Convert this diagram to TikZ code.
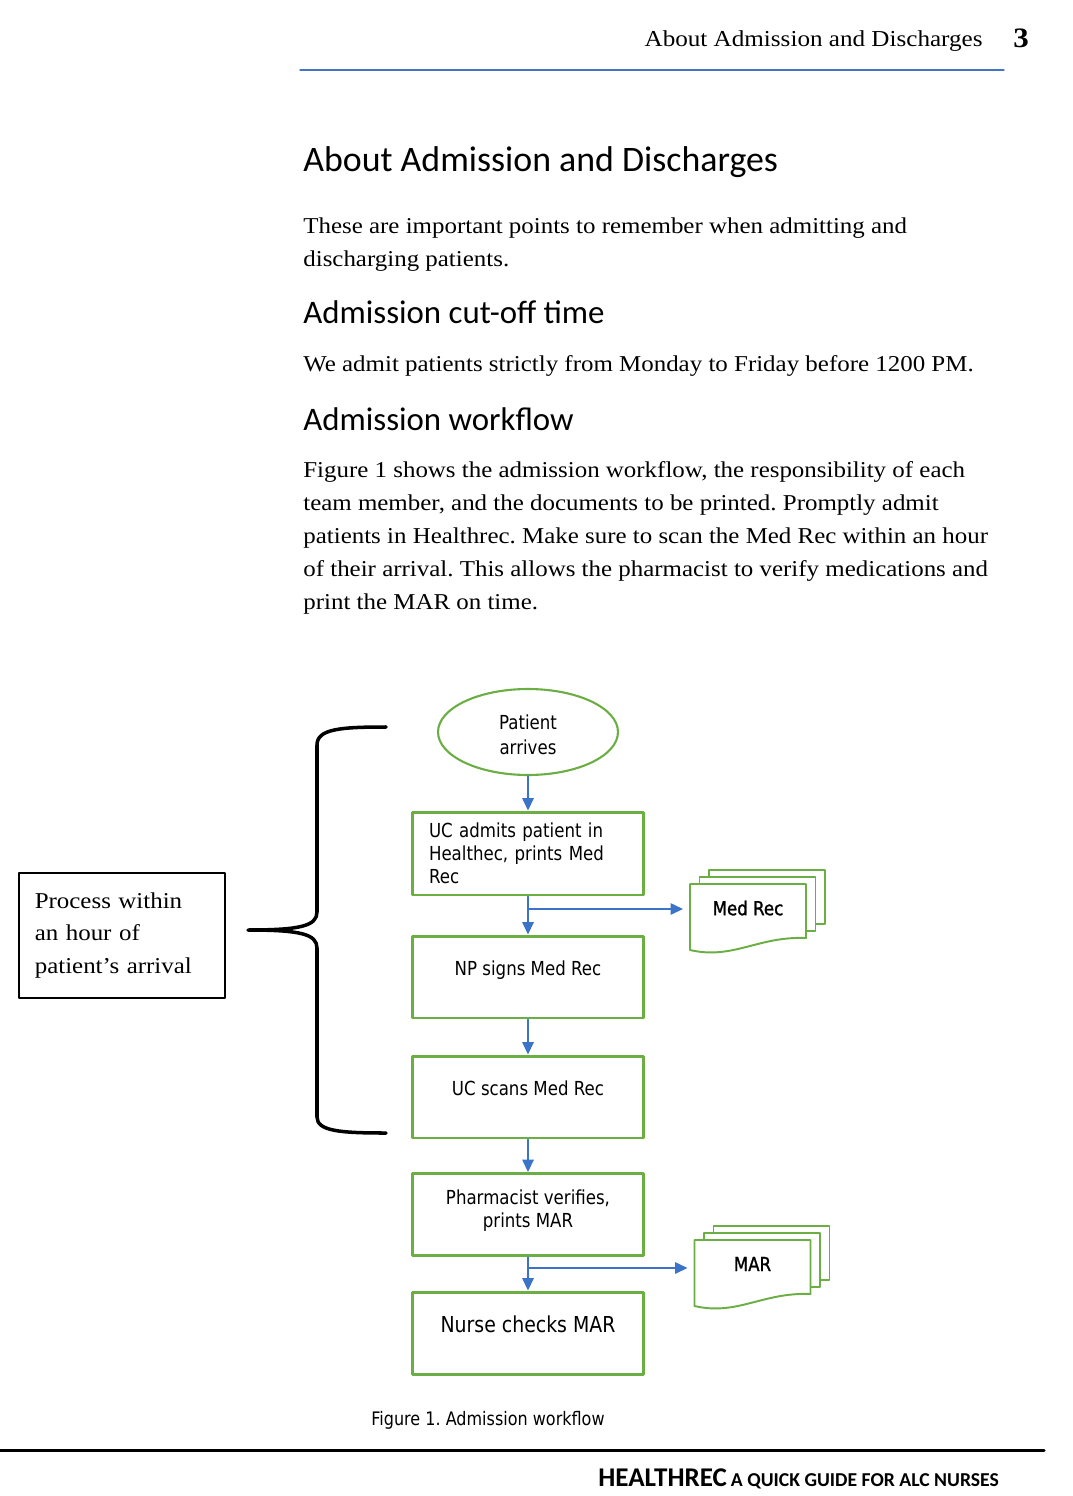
\documentclass[tikz,border=0pt]{standalone}
\usepackage{fontspec}
\setmainfont[FakeStretch=1.1]{Liberation Serif}
\newfontfamily\headfont{Carlito}
\newfontfamily\chartfont[FakeStretch=0.86]{DejaVu Sans}
\newfontfamily\docfont[FakeStretch=0.86, FakeBold=1.2]{DejaVu Sans}
\usetikzlibrary{arrows.meta}
\usetikzlibrary{positioning}
\usetikzlibrary{shapes.geometric}
\definecolor{flowgreen}{RGB}{107,174,67}
\definecolor{flowblue}{RGB}{59,115,200}
\definecolor{ruleblue}{RGB}{68,114,196}

\tikzset{
  bodyline/.style={anchor=base west, inner sep=0pt, font=\fontsize{12.9}{15}\selectfont},
  headline/.style={anchor=base west, inner sep=0pt, font=\headfont\fontsize{20.4}{24}\selectfont},
  subhead/.style={headline, font=\headfont\fontsize{18.7}{22}\selectfont},
  procbox/.style={draw=flowgreen, line width=1.7pt, minimum width=4.64cm, minimum height=1.64cm,
    inner sep=0pt, align=center, font=\chartfont\fontsize{11}{13.1}\selectfont},
  singlebox/.style={procbox, text depth=0.37cm},
  startoval/.style={ellipse, draw=flowgreen, line width=1.2pt, minimum width=3.6cm, minimum height=1.72cm,
    inner sep=0pt, align=center, text height=0.91cm, font=\chartfont\fontsize{11}{14.2}\selectfont},
  flowarrow/.style={draw=flowblue, line width=0.7pt, -{Triangle[length=7pt,width=6.5pt]}},
  docpage/.style={draw=flowgreen, line width=1.1pt, fill=white},
  doctext/.style={inner sep=0pt, minimum width=2.32cm, outer sep=4pt, font=\docfont\fontsize{11}{13}\selectfont}
}

% stack of three printed pages round a coordinate
\newcommand\docstack[1]{%
  \foreach \dx/\dy in {19/14,9.5/7}
    \draw[docpage] ([shift={(-58+\dx,-24-\dy)}]#1) rectangle ([shift={(58+\dx,30-\dy)}]#1);
  \draw[docpage] ([shift={(-58,-24)}]#1) -- ([shift={(58,-24)}]#1) -- ([shift={(58,30)}]#1)
    .. controls ([shift={(10,28)}]#1) and ([shift={(-15,52)}]#1) .. ([shift={(-58,42)}]#1) -- cycle;}

\begin{document}
\frenchspacing
\begin{tikzpicture}[line cap=round,line join=round,x=0.02cm,y=-0.02cm]
\useasboundingbox (0,0) rectangle (1072,1496);

% running head
\node[anchor=base east, inner sep=0pt, font=\fontsize{13}{15}\selectfont] (runhead) at (983,47) {About Admission and Discharges};
\node[anchor=base west, inner sep=0pt, font=\bfseries\fontsize{16}{18}\selectfont] (pagenum) at (1013,48) {3};
\draw[ruleblue, line width=0.6pt] (300,70) -- (1004,70);

% text of the page
\node[headline] (title) at (303,172) {About Admission and Discharges};
\node[bodyline] (intro-1) at (303,234) {These are important points to remember when admitting and};
\node[bodyline] (intro-2) at (303,267) {discharging patients.};
\node[subhead] (cutoff) at (303,324) {Admission cut-off time};
\node[bodyline] (cutoff-1) at (303,372) {We admit patients strictly from Monday to Friday before 1200 PM.};
\node[subhead] (workflow) at (303,430) {Admission workflow};
\foreach \txt [count=\i] in {{Figure 1 shows the admission workflow, the responsibility of each},
    {team member, and the documents to be printed. Promptly admit},
    {patients in Healthrec. Make sure to scan the Med Rec within an hour},
    {of their arrival. This allows the pharmacist to verify medications and},
    {print the MAR on time.}}
  \node[bodyline] (workflow-\i) at (303,444+33*\i) {\txt};

% flowchart
\node[startoval] (arrive) at (528,732) {Patient\\arrives};
\node[procbox, minimum height=1.66cm, text width=3.96cm, align=left] (admit) at (528,853.5) {UC admits patient in Healthec, prints Med Rec};
\node[singlebox] (npsign) at (528,977) {NP signs Med Rec};
\node[singlebox] (ucscan) at (528,1097) {UC scans Med Rec};
\node[procbox, text depth=0.25cm] (pharm) at (528,1214.5) {Pharmacist verifies,\\prints MAR};
\node[singlebox, font=\chartfont\fontsize{12.5}{14}\selectfont] (nurse) at (528,1333) {Nurse checks MAR};

\coordinate (medrec-c) at (748,908);
\docstack{medrec-c}
\node[doctext] (medrec) at (medrec-c) {Med Rec};
\coordinate (mar-c) at (752.5,1264);
\docstack{mar-c}
\node[doctext] (mar) at (mar-c) {MAR};

\draw[flowarrow] (arrive.south) -- (admit.north);
\draw[flowarrow] (admit.south) -- (npsign.north);
\draw[flowarrow] (npsign.south) -- (ucscan.north);
\draw[flowarrow] (ucscan.south) -- (pharm.north);
\draw[flowarrow] (pharm.south) -- (nurse.north);
\coordinate (medfork) at (admit.south |- 0,909);
\coordinate (marfork) at (pharm.south |- 0,1268);
\draw[flowarrow] (medfork) -- (medfork -| medrec.west);
\draw[flowarrow] (marfork) -- (marfork -| mar.west);

% brace and its note
\draw[line width=2pt] (386,727) .. controls (340,727) and (317,729) .. (317,745) -- (317,912)
  .. controls (317,926) and (300,930) .. (248,930)
  .. controls (300,930) and (317,934) .. (317,948) -- (317,1117)
  .. controls (317,1131) and (340,1133) .. (386,1133);
\node[draw, line width=0.9pt, minimum width=4.12cm, minimum height=2.5cm, anchor=north west, inner sep=0pt,
  text width=3.48cm, align=left, font=\fontsize{12.9}{18.5}\selectfont] (hourbox) at (18,872)
  {Process within\\an hour of\\patient's arrival};

\node[anchor=base, inner sep=0pt, font=\chartfont\fontsize{10.6}{12}\selectfont] (caption) at (488,1425) {Figure 1. Admission workflow};

% foot of the page
\draw[line width=1.7pt] (0,1450) -- (1044,1450);
\node[anchor=base west, inner sep=0pt, font=\headfont\bfseries] (footer) at (598,1486)
  {{\fontsize{15.4}{17}\selectfont HEALTHREC} {\fontsize{11.2}{13}\selectfont A QUICK GUIDE FOR ALC NURSES}};
\end{tikzpicture}
\end{document}
